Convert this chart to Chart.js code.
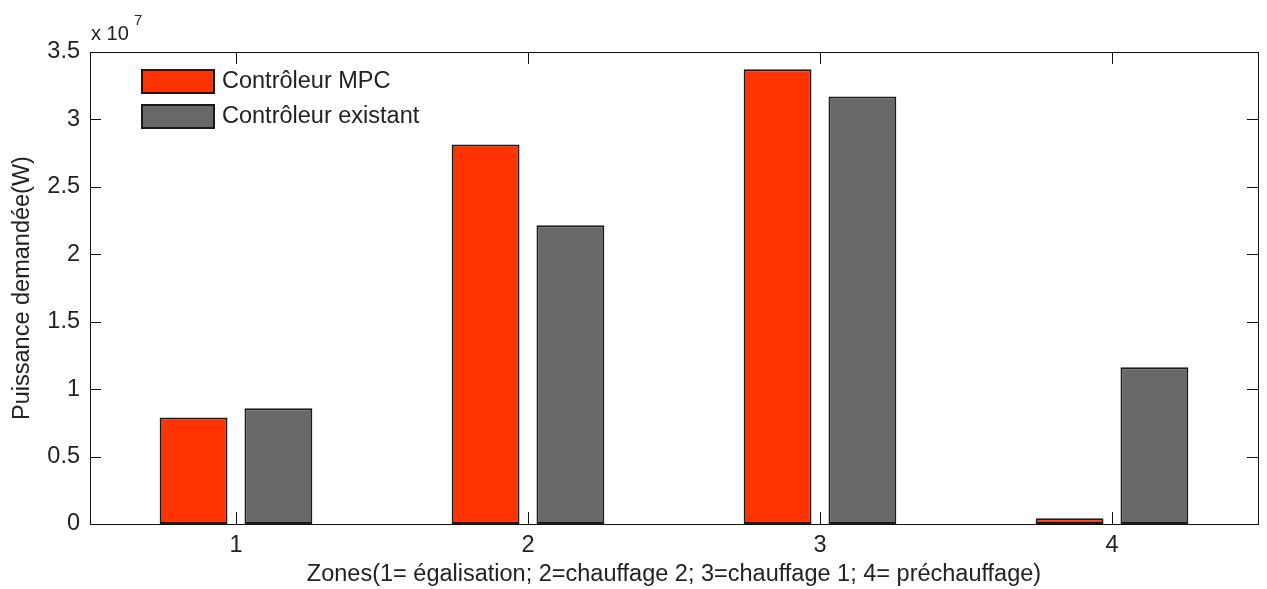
<!DOCTYPE html>
<html>
<head>
<meta charset="utf-8">
<script src="https://cdn.jsdelivr.net/npm/chart.js@4"></script>
<style>
  html, body { margin: 0; padding: 0; background: #fff; }
  #wrap { width: 1267px; height: 589px; }
</style>
</head>
<body>
<div id="wrap"><canvas id="c" width="1267" height="589"></canvas></div>
<script>
// données (W)
const zones = ['1', '2', '3', '4'];
const mpc = [0.79e7, 2.815e7, 3.373e7, 0.042e7];
const existant = [0.858e7, 2.215e7, 3.17e7, 1.162e7];
const yTicks = [0, 0.5e7, 1e7, 1.5e7, 2e7, 2.5e7, 3e7, 3.5e7];

const FONT = 'Liberation Sans, Arial, sans-serif';
const FS = 23.5;
const TXT = '#222';

// cadre, graduations vers l'intérieur, légende et facteur x 10^7
const matlabAxes = {
    id: 'matlabAxes',
    afterDraw(chart) {
        const ctx = chart.ctx;
        const a = chart.chartArea;
        const xs = chart.scales.x, ys = chart.scales.y;
        ctx.save();
        ctx.strokeStyle = '#111';
        ctx.lineWidth = 1;
        ctx.strokeRect(a.left + 0.5, a.top + 0.5, a.right - a.left, a.bottom - a.top);
        ctx.beginPath();
        yTicks.forEach(v => {
            const y = Math.round(ys.getPixelForValue(v)) + 0.5;
            ctx.moveTo(a.left, y); ctx.lineTo(a.left + 11, y);
            ctx.moveTo(a.right, y); ctx.lineTo(a.right - 11, y);
        });
        zones.forEach((z, i) => {
            const x = Math.round(xs.getPixelForValue(i)) + 0.5;
            ctx.moveTo(x, a.bottom); ctx.lineTo(x, a.bottom - 12);
            ctx.moveTo(x, a.top); ctx.lineTo(x, a.top + 12);
        });
        ctx.stroke();

        // légende
        let ly = 69;
        chart.data.datasets.forEach(ds => {
            ctx.fillStyle = ds.backgroundColor;
            ctx.fillRect(141, ly, 74, 25);
            ctx.lineWidth = 2;
            ctx.strokeStyle = '#1a1a1a';
            ctx.strokeRect(142, ly + 1, 72, 23);
            ctx.fillStyle = TXT;
            ctx.font = FS + 'px ' + FONT;
            ctx.textBaseline = 'middle';
            ctx.textAlign = 'left';
            ctx.fillText(ds.label, 222, ly + 13);
            ly += 35;
        });

        // x 10^7
        ctx.textBaseline = 'alphabetic';
        ctx.font = '20px ' + FONT;
        ctx.fillText('x 10', 91, 40);
        ctx.font = '15px ' + FONT;
        ctx.fillText('7', 134, 25);
        ctx.restore();
    }
};

new Chart(document.getElementById('c').getContext('2d'), {
    type: 'bar',
    data: {
        labels: zones,
        datasets: [{
            label: 'Contrôleur MPC',
            data: mpc,
            backgroundColor: '#ff3300',
            borderColor: '#1a1a1a',
            borderWidth: 2,
            borderSkipped: false
        }, {
            label: 'Contrôleur existant',
            data: existant,
            backgroundColor: '#686868',
            borderColor: '#1a1a1a',
            borderWidth: 2,
            borderSkipped: false
        }]
    },
    options: {
        responsive: false,
        animation: false,
        categoryPercentage: 0.581,
        barPercentage: 0.8,
        layout: { padding: { top: 52, right: 9, left: 0, bottom: 0 } },
        plugins: {
            legend: { display: false },
            tooltip: { enabled: false }
        },
        scales: {
            x: {
                offset: true,
                grid: { display: false, drawTicks: false },
                border: { display: false },
                ticks: { color: TXT, font: { family: FONT, size: FS }, padding: 7, maxRotation: 0 },
                title: {
                    display: true,
                    text: 'Zones(1= égalisation; 2=chauffage 2; 3=chauffage 1; 4= préchauffage)',
                    color: TXT,
                    font: { family: FONT, size: FS },
                    padding: { top: 0, bottom: 0 }
                },
                afterFit(s) { s.height = 65; }
            },
            y: {
                min: 0,
                max: 3.5e7,
                grid: { display: false, drawTicks: false },
                border: { display: false },
                afterBuildTicks(s) { s.ticks = yTicks.map(v => ({ value: v })); },
                ticks: {
                    color: TXT,
                    font: { family: FONT, size: FS },
                    padding: 10,
                    callback: v => String(v / 1e7)
                },
                title: {
                    display: true,
                    text: 'Puissance demandée(W)',
                    color: TXT,
                    font: { family: FONT, size: FS },
                    padding: { top: 8, bottom: 0 }
                },
                afterFit(s) { s.width = 90; }
            }
        }
    },
    plugins: [matlabAxes]
});
</script>
</body>
</html>
